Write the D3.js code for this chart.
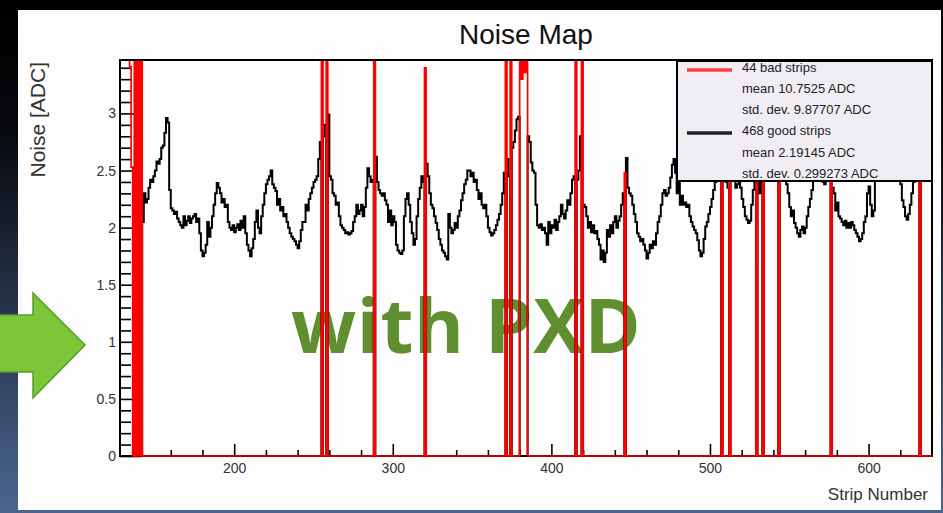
<!DOCTYPE html>
<html>
<head>
<meta charset="utf-8">
<script src="https://cdn.jsdelivr.net/npm/d3@7"></script>
<style>
  body { margin: 0; background: #000; }
  svg { display: block; }
</style>
</head>
<body>
<svg width="943" height="513"></svg>
<script>
// strips 128..639, one value per strip (0 where the strip is flagged bad)
const firstStrip = 128;
const goodNoise = [
  0,0,0,0,0,0,0,0,0,0,0,0,0,0,2.05,2.3,
  2.22,2.25,2.35,2.42,2.40,2.45,2.5,2.58,2.56,2.6,2.70,2.72,2.83,2.96,2.92,2.33,
  2.17,2.15,2.12,2.14,2.08,2.05,2.02,2.0,2.1,2.02,2.06,2.1,2.04,2.08,2.1,2.12,
  2.05,2.08,1.95,1.8,1.75,1.78,1.85,2.05,1.92,2.0,2.1,2.2,2.3,2.39,2.35,2.3,
  2.22,2.25,2.18,2.2,2.05,2.0,1.98,2.02,1.96,2.0,2.03,1.98,2.06,2.0,2.1,1.95,
  1.85,1.8,1.75,1.82,1.9,2.05,2.15,2.0,1.95,2.1,2.2,2.3,2.38,2.42,2.45,2.5,
  2.38,2.35,2.32,2.2,2.25,2.15,2.18,2.1,2.12,2.05,2.0,1.95,1.92,1.9,1.88,1.85,
  1.82,1.88,1.98,2.05,2.05,2.2,2.15,2.25,2.3,2.35,2.4,2.42,2.45,2.6,2.75,0,
  2.8,2.9,0,2.99,2.45,2.42,2.3,2.28,2.2,2.22,2.1,2.02,2.0,1.98,1.95,1.96,
  1.94,1.95,1.97,2.05,2.1,2.2,2.12,2.15,2.2,2.1,2.18,2.35,2.52,2.45,2.4,2.42,
  0,2.62,2.4,2.33,2.3,2.28,2.3,2.24,2.2,2.05,2.15,2.02,2.1,2.05,1.85,1.8,
  1.78,1.77,1.8,2.1,2.25,2.3,2.2,2.05,1.95,1.85,1.9,2.1,2.25,2.35,2.45,2.4,
  0,2.56,2.45,2.3,2.2,2.17,2.1,2.04,1.98,1.9,1.85,1.8,1.78,1.75,1.72,2.12,
  2.0,1.95,1.98,2.04,2.0,2.1,2.15,2.24,2.3,2.38,2.42,2.5,2.5,2.45,2.48,2.4,
  2.42,2.33,2.25,2.3,2.2,2.17,2.2,2.1,2.0,1.96,1.93,1.95,1.98,2.02,2.07,2.12,
  2.2,2.3,2.48,0,2.6,2.45,0,2.7,2.75,2.85,2.95,2.97,0,0,0,0,
  0,2.8,2.75,2.57,2.5,2.48,2.2,2.02,2.0,2.03,1.98,2.0,1.95,1.85,2.05,1.95,
  2.02,2.0,2.07,1.98,2.05,2.1,2.2,2.12,2.08,2.15,2.24,2.2,2.3,2.42,2.45,0,
  2.42,2.5,2.8,0,2.2,2.18,2.1,2.0,2.05,1.96,2.02,1.95,1.97,1.9,1.85,1.72,
  1.8,1.7,1.78,1.98,1.92,2.02,1.95,2.05,2.1,2.0,2.06,2.1,2.2,2.3,0,2.61,
  2.35,2.3,2.28,2.2,2.12,2.05,1.95,1.92,1.88,1.9,1.85,1.8,1.73,1.78,1.85,1.82,
  1.88,1.85,1.95,2.05,2.1,2.2,2.3,2.33,2.28,2.3,2.35,2.44,2.55,2.6,2.48,2.3,
  2.4,2.2,2.28,2.2,2.22,2.18,2.2,2.1,2.05,2.01,1.98,1.95,1.89,1.8,1.75,1.78,
  1.9,2.01,2.05,2.12,2.18,2.25,2.33,2.4,2.45,2.5,2.55,0,2.45,2.5,2.4,2.35,
  0,2.45,2.5,2.42,2.35,2.38,2.4,2.35,2.25,2.18,2.1,2.07,2.04,2.06,2.2,2.33,
  2.45,0,2.5,2.3,2.45,0,2.45,2.5,2.55,2.5,2.45,2.5,2.42,2.45,2.5,0,
  2.5,2.45,2.48,2.42,2.38,2.3,2.18,2.1,2.15,2.04,2.0,1.95,1.92,1.98,2.01,1.95,
  2.0,2.1,2.18,2.25,2.33,2.42,2.45,2.5,2.42,2.45,2.5,2.4,2.38,2.42,2.45,2.5,
  0,2.35,2.3,2.15,2.22,2.1,2.08,2.05,2.02,2.06,2.0,2.04,2.0,2.05,2.02,1.98,
  1.95,1.92,1.88,1.9,1.95,2.05,2.1,2.3,2.36,2.2,2.1,2.15,2.45,2.5,2.55,2.5,
  2.6,2.55,2.5,2.48,2.55,2.5,2.45,2.5,2.48,2.45,2.42,2.45,2.38,2.24,2.18,2.1,
  2.07,2.12,2.2,2.3,2.4,2.45,2.5,2.55,0,2.5,2.45,2.5,2.48,2.45,2.5,2.42
];
const badStrips = [128,129,130,131,132,133,134,135,136,137,138,139,140,141,
  255,258,288,320,371,374,380,381,382,383,384,415,419,446,507,512,529,533,543,576,632];
const badNoise = [11.2,13.5,9.8,12.6,10.4,14.1,3.41,2.53,0,15.8,0,14.6,0,17.2,
  21.5,18.3,16.7,3.40,19.2,22.4,24.1,3.30,26.8,3.36,23.5,20.6,18.9,2.48,17.4,19.8,16.2,15.1,21.3,18.7,20.9];

const xTicks = [200, 300, 400, 500, 600];
const yTicks = [0, 0.5, 1, 1.5, 2, 2.5, 3];
const legendText = ["44 bad strips", "mean 10.7525 ADC", "std. dev. 9.87707 ADC",
  "468 good strips", "mean 2.19145 ADC", "std. dev. 0.299273 ADC"];

const svg = d3.select("svg");
const width = +svg.attr("width");
const height = +svg.attr("height");

const plotLeft = 120, plotRight = 932, plotTop = 60, plotBottom = 456;
const font = "'Liberation Sans', Arial, sans-serif";

const x = d3.scaleLinear().domain([firstStrip, firstStrip + goodNoise.length]).range([plotLeft, plotRight]);
const y = d3.scaleLinear().domain([0, 3.468]).range([plotBottom, plotTop]);

const defs = svg.append("defs");
const bg = defs.append("linearGradient").attr("id", "bg")
  .attr("x1", 0).attr("y1", 0).attr("x2", 0).attr("y2", 1);
bg.append("stop").attr("offset", "0").attr("stop-color", "#000");
bg.append("stop").attr("offset", "0.25").attr("stop-color", "#06080c");
bg.append("stop").attr("offset", "1").attr("stop-color", "#4c6590");

defs.append("clipPath").attr("id", "plot")
  .append("rect").attr("x", plotLeft).attr("y", plotTop)
  .attr("width", plotRight - plotLeft).attr("height", plotBottom - plotTop + 2);

svg.append("rect").attr("width", width).attr("height", height).attr("fill", "url(#bg)");
svg.append("rect")
  .attr("x", 18).attr("y", 10).attr("width", 923).attr("height", 500)
  .attr("fill", "#fcfdfc");

// title and axis titles
svg.append("text")
  .attr("x", 526).attr("y", 44)
  .attr("text-anchor", "middle")
  .attr("font-family", font).attr("font-size", 28).attr("fill", "#111")
  .text("Noise Map");

svg.append("text")
  .attr("transform", `translate(45, 62) rotate(-90)`)
  .attr("text-anchor", "end")
  .attr("font-family", font).attr("font-size", 21).attr("fill", "#333")
  .text("Noise [ADC]");

svg.append("text")
  .attr("x", 928).attr("y", 500)
  .attr("text-anchor", "end")
  .attr("font-family", font).attr("font-size", 17).attr("fill", "#333")
  .text("Strip Number");

// axes
const styleAxis = g => {
  g.select(".domain").remove();
  g.selectAll("line").attr("stroke", "#000").attr("stroke-width", 1.6);
  g.selectAll("text").attr("font-family", font).attr("font-size", 14).attr("fill", "#333");
};

const yMinor = d3.range(0, 35).filter(i => i % 5).map(i => i / 10);
const xMinor = d3.range(140, 640, 20).filter(v => v % 100);

svg.append("g").attr("transform", `translate(${plotLeft},0)`)
  .call(d3.axisLeft(y).tickValues(yMinor).tickSizeInner(-11).tickSizeOuter(0).tickFormat(""))
  .call(styleAxis);
svg.append("g").attr("transform", `translate(${plotLeft},0)`)
  .call(d3.axisLeft(y).tickValues(yTicks).tickSizeInner(-22).tickSizeOuter(0).tickPadding(4).tickFormat(d3.format("~g")))
  .call(styleAxis);
svg.append("g").attr("transform", `translate(0,${plotBottom})`)
  .call(d3.axisBottom(x).tickValues(xMinor).tickSizeInner(-6).tickSizeOuter(0).tickFormat(""))
  .call(styleAxis);
svg.append("g").attr("transform", `translate(0,${plotBottom})`)
  .call(d3.axisBottom(x).tickValues(xTicks).tickSizeInner(-12).tickSizeOuter(0).tickPadding(7))
  .call(styleAxis);

svg.append("rect")
  .attr("x", plotLeft).attr("y", plotTop).attr("width", plotRight - plotLeft).attr("height", plotBottom - plotTop)
  .attr("fill", "none").attr("stroke", "#000").attr("stroke-width", 2);

// overlay text from the slide
svg.append("text")
  .attr("x", 291).attr("y", 353)
  .attr("font-family", "'Open Sans', 'Noto Sans', sans-serif")
  .attr("font-weight", 700).attr("font-size", 76)
  .attr("letter-spacing", 0.6)
  .attr("fill", "#5f8f2f")
  .text("with PXD");

// step histograms
const steps = values => {
  const pts = [[firstStrip, 0]];
  values.forEach((v, i) => pts.push([firstStrip + i, v], [firstStrip + i + 1, v]));
  pts.push([firstStrip + values.length, 0]);
  return pts;
};
const line = d3.line().x(d => x(d[0])).y(d => y(d[1]));

const badValues = goodNoise.map((_, i) => {
  const k = badStrips.indexOf(firstStrip + i);
  return k < 0 ? 0 : badNoise[k];
});

const hist = svg.append("g").attr("clip-path", "url(#plot)");
hist.append("path")
  .attr("d", line(steps(goodNoise)))
  .attr("fill", "none").attr("stroke", "#000").attr("stroke-width", 2);
hist.append("path")
  .attr("d", line(steps(badValues)))
  .attr("fill", "none").attr("stroke", "#ff0000").attr("stroke-width", 1.7);

svg.append("path")
  .attr("d", `M${plotLeft},${plotBottom}V${plotTop}H${plotRight}V${plotBottom}`)
  .attr("fill", "none").attr("stroke", "#000").attr("stroke-width", 2);

// legend
const legend = svg.append("g");
legend.append("rect")
  .attr("x", 677).attr("y", 61).attr("width", 255).attr("height", 120)
  .attr("fill", "#f0eef2").attr("stroke", "#000").attr("stroke-width", 2);
legend.selectAll("text.entry").data(legendText).join("text")
  .attr("class", "entry")
  .attr("x", 742).attr("y", (d, i) => 71.5 + i * 21.3)
  .attr("font-family", font).attr("font-size", 13).attr("fill", "#222")
  .text(d => d);
legend.selectAll("line.key").data(["#ff4040", "#222"]).join("line")
  .attr("class", "key")
  .attr("x1", 687).attr("x2", 732)
  .attr("y1", (d, i) => 70 + i * 63).attr("y2", (d, i) => 70 + i * 63)
  .attr("stroke", d => d).attr("stroke-width", 3.5);

// green arrow from the slide
svg.append("path")
  .attr("d", "M-5,315H33V293L85,345L33,398V372H-5Z")
  .attr("fill", "#7cc63a").attr("stroke", "#5c9a2c").attr("stroke-width", 1.5);
</script>
</body>
</html>
